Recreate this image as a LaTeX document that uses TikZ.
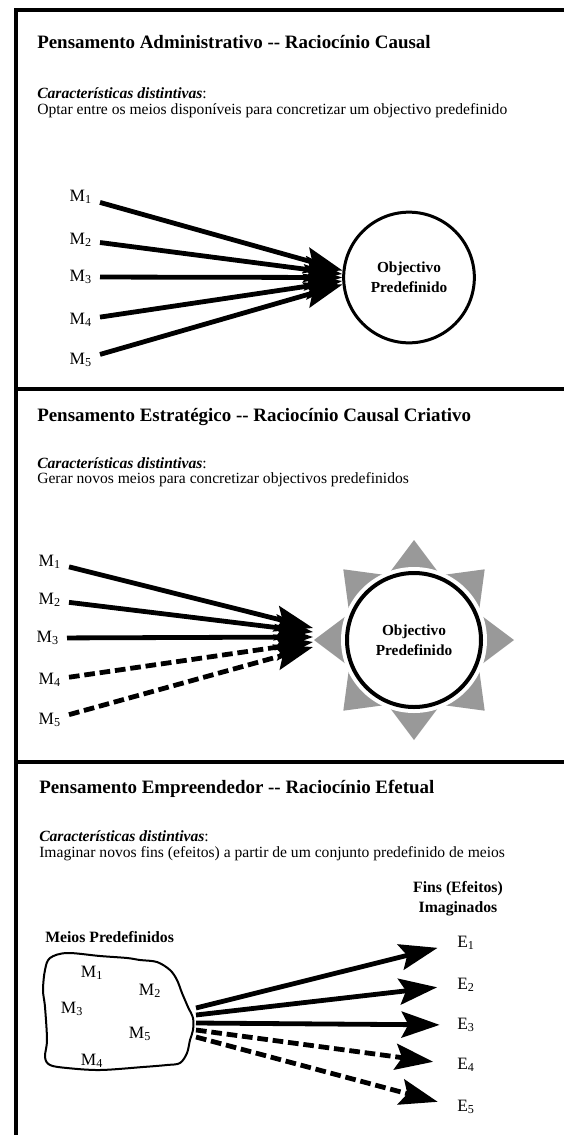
\documentclass[tikz,border=0pt]{standalone}
\usepackage{fontspec}
\setmainfont{Liberation Serif}
\usetikzlibrary{arrows.meta, positioning, backgrounds}
\definecolor{raygray}{RGB}{153,153,153}
\tikzset{
  pttitle/.style={anchor=base west, inner sep=0pt, font=\fontsize{14.2}{17}\selectfont\bfseries},
  pttext/.style={anchor=base west, inner sep=0pt, font=\fontsize{11.7}{14}\selectfont},
  pthead/.style={inner sep=0pt, align=center, font=\fontsize{11.8}{15}\selectfont\bfseries},
  meanlbl/.style={inner xsep=6pt, inner ysep=0pt, font=\fontsize{13}{15}\selectfont},
  endlbl/.style={inner sep=0pt, font=\fontsize{13}{15}\selectfont},
  goalnode/.style={circle, draw, fill=white, inner sep=0pt,
                   align=center, font=\fontsize{11.5}{15}\selectfont\bfseries},
  meanarrow/.style={-{Stealth[length=28.5pt, width=19.5pt, inset=5pt]}, line width=3.6pt},
  meandash/.style={meanarrow, dash pattern=on 8pt off 3.6pt},
  panelline/.style={line width=3pt},
}

\begin{document}
\begin{tikzpicture}[x=0.75pt, y=-0.75pt]
  \useasboundingbox (0,0) rectangle (564,1135);
  % frame and panel rules
  \draw[panelline] (564,10) -- (16,10) -- (16,1135);
  \draw[panelline] (16,389) -- (564,389);
  \draw[panelline] (16,762) -- (564,762);

  % panel 1: causal
  \node[pttitle] (tA) at (37,48) {Pensamento Administrativo -{}- Raciocínio Causal};
  \node[pttext] (cA) at (37,98) {\textbf{\textit{Características distintivas}}:};
  \node[pttext] (dA) at (37,114)
    {Optar entre os meios disponíveis para concretizar um objectivo predefinido};
  \node[goalnode, line width=2.25pt, minimum size=98pt] (goalA) at (409,277.5)
    {Objectivo\\Predefinido};
  \node[meanlbl, anchor=east] (mA1) at (100,197) {M\textsubscript{1}};
  \node[meanlbl, anchor=east] (mA2) at (100,240) {M\textsubscript{2}};
  \node[meanlbl, anchor=east] (mA3) at (100,277) {M\textsubscript{3}};
  \node[meanlbl, anchor=east] (mA4) at (100,320) {M\textsubscript{4}};
  \node[meanlbl, anchor=east] (mA5) at (100,360) {M\textsubscript{5}};
  \draw[meanarrow] (mA1) -- (goalA.174);
  \draw[meanarrow] (mA2) -- (goalA.177);
  \draw[meanarrow] (mA3) -- (goalA.180);
  \draw[meanarrow] (mA4) -- (goalA.183);
  \draw[meanarrow] (mA5) -- (goalA.186);

  % panel 2: creative causal
  \node[pttitle] (tB) at (37,421) {Pensamento Estratégico -{}- Raciocínio Causal Criativo};
  \node[pttext] (cB) at (37,468) {\textbf{\textit{Características distintivas}}:};
  \node[pttext] (dB) at (37,483) {Gerar novos meios para concretizar objectivos predefinidos};
  \node[goalnode, line width=3pt, minimum size=100.5pt] (goalB) at (414,640)
    {Objectivo\\Predefinido};
  \begin{scope}[on background layer]
    \fill[raygray] (514,640) -- (478,613) -- (478,667) -- cycle;
    \fill[raygray] (484.7,710.7) -- (440.2,704.7) -- (478.7,666.2) -- cycle;
    \fill[raygray] (414,740) -- (387,704) -- (441,704) -- cycle;
    \fill[raygray] (343.3,710.7) -- (349.3,666.2) -- (387.8,704.7) -- cycle;
    \fill[raygray] (314,640) -- (350,613) -- (350,667) -- cycle;
    \fill[raygray] (343.3,569.3) -- (349.3,613.8) -- (387.8,575.3) -- cycle;
    \fill[raygray] (414,540) -- (387,576) -- (441,576) -- cycle;
    \fill[raygray] (484.7,569.3) -- (440.2,575.3) -- (478.7,613.8) -- cycle;
    \fill[white] (goalB.center) circle[radius=73];
  \end{scope}
  \node[meanlbl, anchor=east] (mB1) at (69,562) {M\textsubscript{1}};
  \node[meanlbl, anchor=east] (mB2) at (69,600) {M\textsubscript{2}};
  \node[meanlbl, anchor=east] (mB3) at (67,638) {M\textsubscript{3}};
  \node[meanlbl, anchor=east] (mB4) at (69,680) {M\textsubscript{4}};
  \node[meanlbl, anchor=east] (mB5) at (69,720) {M\textsubscript{5}};
  \coordinate (hB1) at (313,628);
  \coordinate (hB2) at (313,632);
  \coordinate (hB3) at (313,637);
  \coordinate (hB4) at (313,642);
  \coordinate (hB5) at (313,647);
  \draw[meanarrow] (mB1) -- (hB1);
  \draw[meanarrow] (mB2) -- (hB2);
  \draw[meanarrow] (mB3) -- (hB3);
  \draw[meandash] (mB4) -- (hB4);
  \draw[meandash] (mB5) -- (hB5);

  % panel 3: effectual
  \node[pttitle] (tC) at (39,793) {Pensamento Empreendedor -{}- Raciocínio Efetual};
  \node[pttext] (cC) at (39,841) {\textbf{\textit{Características distintivas}}:};
  \node[pttext] (dC) at (39,857)
    {Imaginar novos fins (efeitos) a partir de um conjunto predefinido de meios};
  \node[pthead] (fins) at (458,899) {Fins (Efeitos)\\Imaginados};
  \node[pthead, anchor=base west] (meios) at (45,942) {Meios Predefinidos};
  \draw[line width=1.5pt] plot[smooth cycle, tension=0.55] coordinates {
    (45,970) (50,958) (67,953) (100,956) (127,958) (140,960) (157,962) (170,970)
    (177,980) (182,993) (188,1007) (193,1018) (193,1030) (190,1040) (187,1053)
    (180,1063) (167,1065) (143,1067) (100,1070) (67,1068) (50,1065) (45,1057)
    (47,1040) (45,1007) (43,990)};
  \node[endlbl] (mC1) at (92,973) {M\textsubscript{1}};
  \node[endlbl] (mC2) at (150,991) {M\textsubscript{2}};
  \node[endlbl] (mC3) at (72,1009) {M\textsubscript{3}};
  \node[endlbl] (mC5) at (140,1034) {M\textsubscript{5}};
  \node[endlbl] (mC4) at (92,1061) {M\textsubscript{4}};
  \node[endlbl, anchor=west] (e1) at (457,943) {E\textsubscript{1}};
  \node[endlbl, anchor=west] (e2) at (457,985) {E\textsubscript{2}};
  \node[endlbl, anchor=west] (e3) at (457,1025) {E\textsubscript{3}};
  \node[endlbl, anchor=west] (e4) at (457,1065) {E\textsubscript{4}};
  \node[endlbl, anchor=west] (e5) at (457,1107) {E\textsubscript{5}};
  \coordinate (sC1) at (196,1008);
  \coordinate (sC2) at (196,1015);
  \coordinate (sC3) at (196,1023);
  \coordinate (sC4) at (196,1030);
  \coordinate (sC5) at (196,1037);
  \draw[meanarrow, shorten >=15pt] (sC1) -- (e1.west);
  \draw[meanarrow, shorten >=15pt] (sC2) -- (e2.west);
  \draw[meanarrow, shorten >=13pt] (sC3) -- (e3.west);
  \draw[meandash, shorten >=18pt] (sC4) -- (e4.west);
  \draw[meandash, shorten >=15pt] (sC5) -- (e5.west);
\end{tikzpicture}
\end{document}
